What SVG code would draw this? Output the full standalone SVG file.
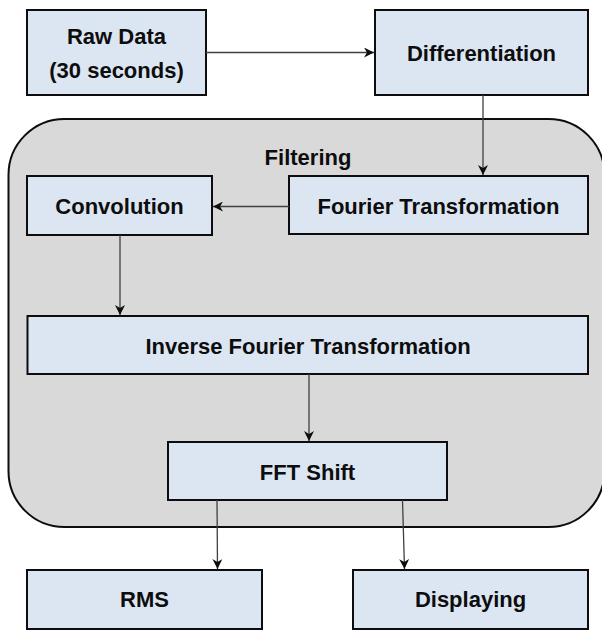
<svg xmlns="http://www.w3.org/2000/svg" width="602" height="630" viewBox="0 0 602 630">
<style>
.box{fill:#dce6f2;stroke:#0d0d0d;stroke-width:2}
.grp{fill:#d9d9d9;stroke:#0d0d0d;stroke-width:2}
.lbl{font-family:"Liberation Sans",Arial,sans-serif;font-weight:bold;font-size:22px;fill:#0d0d0d;text-anchor:middle}
.con{fill:none;stroke:#404040;stroke-width:1.3;marker-end:url(#arr)}
</style>
<defs>
<marker id="arr" viewBox="0 0 10 10" refX="10" refY="5" markerWidth="11" markerHeight="10" markerUnits="userSpaceOnUse" orient="auto">
<path d="M0,0 L10,5 L0,10 L3,5 z" fill="#0d0d0d"/>
</marker>
</defs>
<rect id="filtering-bg" class="grp" x="8.5" y="119" width="596" height="408" rx="56" ry="56"/>
<g id="filtering-label"><text class="lbl" x="308" y="165">Filtering</text></g>
<g id="raw-data"><rect class="box" x="27" y="10" width="179" height="85"/><text class="lbl" x="116.5" y="43.5">Raw Data</text><text class="lbl" x="116.5" y="78">(30 seconds)</text></g>
<g id="differentiation"><rect class="box" x="375" y="10" width="213" height="85"/><text class="lbl" x="481.5" y="60.5">Differentiation</text></g>
<g id="convolution"><rect class="box" x="27" y="176" width="185" height="59"/><text class="lbl" x="119.5" y="213.5">Convolution</text></g>
<g id="fourier"><rect class="box" x="289" y="176" width="299" height="58"/><text class="lbl" x="438.5" y="213.5">Fourier Transformation</text></g>
<g id="inverse"><rect class="box" x="27.5" y="316" width="560.5" height="58"/><text class="lbl" x="308" y="353.5">Inverse Fourier Transformation</text></g>
<g id="fftshift"><rect class="box" x="168" y="442" width="279" height="58"/><text class="lbl" x="307.5" y="480">FFT Shift</text></g>
<g id="rms"><rect class="box" x="27" y="570" width="235" height="59"/><text class="lbl" x="144.5" y="607">RMS</text></g>
<g id="displaying"><rect class="box" x="353" y="570" width="235" height="59"/><text class="lbl" x="470.5" y="607">Displaying</text></g>
<g id="connectors">
<path class="con" d="M206,52.5 H374"/>
<path class="con" d="M483,95 V175"/>
<path class="con" d="M289,206.5 H213"/>
<path class="con" d="M120,235 V315"/>
<path class="con" d="M309,374 V441"/>
<path class="con" d="M217,500 L217.5,569"/>
<path class="con" d="M402.5,500 L404.5,569"/>
</g>
</svg>
